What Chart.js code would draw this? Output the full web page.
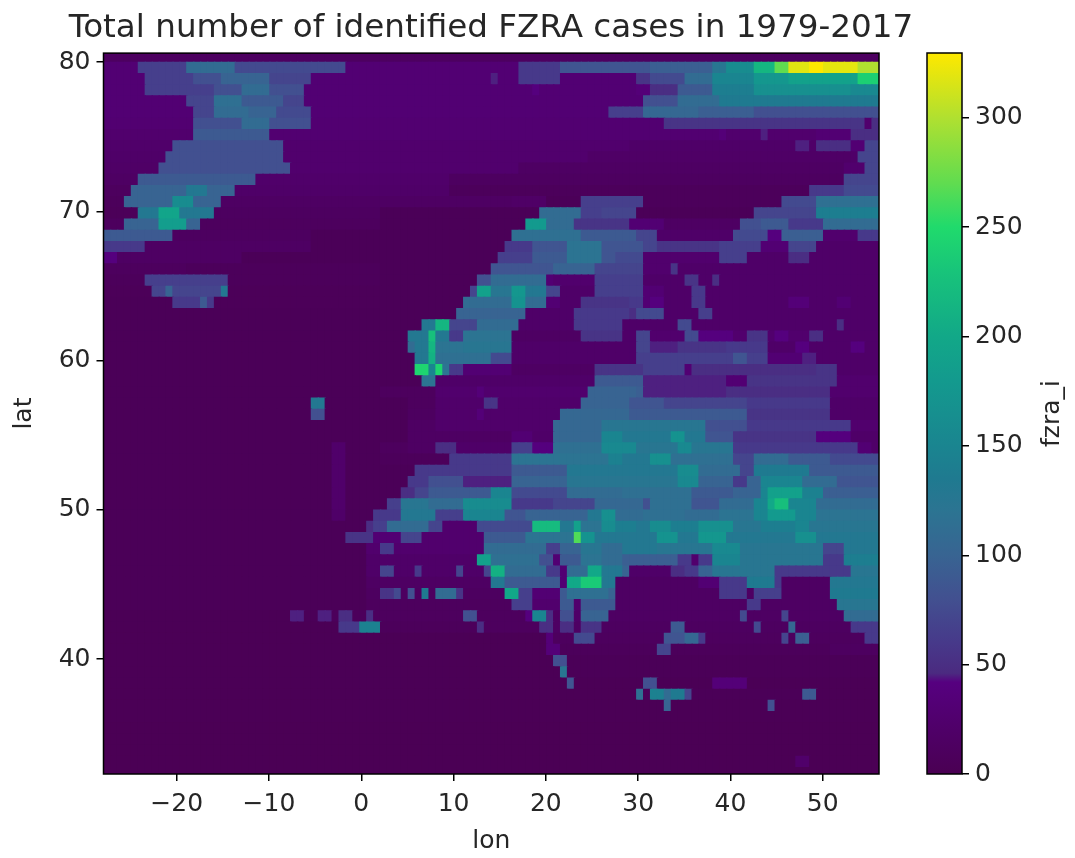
<!DOCTYPE html>
<html lang="en">
<head>
  <meta charset="UTF-8" />
  <title>Total number of identified FZRA cases in 1979-2017</title>
  <script src="https://cdn.jsdelivr.net/npm/chart.js"></script>
  <style>
    * { box-sizing: border-box; margin: 0; padding: 0; }
    body { background: #fff; width: 1075px; height: 858px; overflow: hidden; position: relative; }
    canvas { position: absolute; top: 0; filter: blur(0.6px); }
    #mapChart { left: 0; }
    #barChart { left: 880px; }
  </style>
</head>
<body>
  <canvas id="mapChart" width="982" height="858"></canvas>
  <canvas id="barChart" width="195" height="858"></canvas>

  <script>
    const titleText = "Total number of identified FZRA cases in 1979-2017";
    const lonLabel = "lon";
    const latLabel = "lat";
    const valueLabel = "fzra_i";

    const lons = [
      -27.52,-26.77,-26.02,-25.27,-24.52,-23.77,-23.02,-22.27,-21.52,-20.77,-20.02,-19.27,-18.52,-17.77,-17.02,-16.27,
      -15.52,-14.77,-14.02,-13.27,-12.52,-11.77,-11.02,-10.27,-9.52,-8.77,-8.02,-7.27,-6.52,-5.77,-5.02,-4.27,
      -3.52,-2.77,-2.02,-1.27,-0.52,0.23,0.98,1.73,2.48,3.23,3.98,4.73,5.48,6.23,6.98,7.73,
      8.48,9.23,9.98,10.73,11.48,12.23,12.98,13.73,14.48,15.23,15.98,16.73,17.48,18.23,18.98,19.73,
      20.48,21.23,21.98,22.73,23.48,24.23,24.98,25.73,26.48,27.23,27.98,28.73,29.48,30.23,30.98,31.73,
      32.48,33.23,33.98,34.73,35.48,36.23,36.98,37.73,38.48,39.23,39.98,40.73,41.48,42.23,42.98,43.73,
      44.48,45.23,45.98,46.73,47.48,48.23,48.98,49.73,50.48,51.23,51.98,52.73,53.48,54.23,54.98,55.73
    ];
    const lats = [
      80.39,79.64,78.89,78.14,77.39,76.64,75.89,75.14,74.39,73.64,72.89,72.14,71.39,70.64,69.89,69.14,
      68.39,67.64,66.89,66.14,65.39,64.64,63.89,63.14,62.39,61.64,60.89,60.14,59.39,58.64,57.89,57.14,
      56.39,55.64,54.89,54.14,53.39,52.64,51.89,51.14,50.39,49.64,48.89,48.14,47.39,46.64,45.89,45.14,
      44.39,43.64,42.89,42.14,41.39,40.64,39.89,39.14,38.39,37.64,36.89,36.14,35.39,34.64,33.89,33.14,32.39
    ];
    const lonTicks = [-20, -10, 0, 10, 20, 30, 40, 50];
    const latTicks = [40, 50, 60, 70, 80];
    const barTicks = [0, 50, 100, 150, 200, 250, 300];

    // one string per lat row, north to south. "col:value" = value holds from that column on
    const fzraRows = [
      "0:12",
      "0:30 5:65 12:110 19:75 35:30 60:60 66:85 79:95 88:125 90:160 94:215 97:270 99:318 102:329 104:320 109:300",
      "0:30 6:65 13:80 17:100 24:70 30:30 56:45 57:30 60:60 66:30 77:55 79:75 84:110 88:150 94:175 99:190 109:240",
      "0:30 6:65 16:80 20:110 24:80 29:30 62:40 63:30 77:35 79:50 83:90 88:140 94:165 108:155",
      "0:30 12:70 16:115 20:90 26:70 29:30 78:80 83:110 89:135",
      "0:30 13:70 16:110 21:100 25:75 30:30 73:65 78:105 86:95 94:80",
      "0:28 13:80 20:110 24:80 30:28 81:55 110:25 111:50",
      "0:25 13:90 24:28 89:35 90:25 95:45 96:25 103:30 108:50",
      "0:22 10:80 26:25 76:20 100:45 102:20 103:50 108:30 110:70",
      "0:20 9:80 26:25 70:18 108:20 109:70",
      "0:18 8:80 27:25 60:15 107:25 110:70",
      "0:15 5:90 22:22 50:12 107:70",
      "0:10 4:100 12:130 15:100 19:20 50:8 102:60 107:75",
      "0:8 3:100 10:160 13:100 17:15 59:18 64:5 69:65 78:8 98:75 103:115",
      "0:6 5:130 8:195 11:130 16:12 40:5 63:110 69:65 72:70 77:5 94:70 103:140",
      "0:10 3:100 8:185 12:100 14:10 40:5 61:180 64:110 68:55 76:30 81:15 92:80 95:90 99:60 104:110",
      "0:90 10:12 30:5 59:115 69:90 77:70 80:20 91:75 96:40 98:95 104:25 109:60",
      "0:60 6:15 30:5 58:60 62:85 67:120 72:85 78:70 80:55 89:65 95:30 99:70 103:20",
      "0:40 2:15 20:5 57:65 62:90 67:120 72:85 74:75 78:25 89:65 93:20 99:50 102:20",
      "0:10 12:8 40:5 56:85 65:100 71:70 78:25 82:55 83:20",
      "0:8 6:65 18:8 40:5 54:80 56:110 64:30 65:25 71:65 78:20 84:55 86:20 88:50 89:20",
      "0:6 7:70 9:100 10:70 17:130 18:6 40:5 53:70 54:190 56:125 59:175 61:130 64:70 66:20 71:65 78:30 81:20 85:60 87:20",
      "0:5 10:60 14:90 15:60 16:6 40:5 52:110 59:170 61:110 64:30 66:20 69:55 76:60 78:30 79:40 81:20 85:60 87:20 99:35 102:20 106:30 108:20",
      "0:5 51:100 61:20 68:60 76:50 77:75 81:20 86:65 88:20",
      "0:5 46:130 48:215 50:70 54:110 60:20 68:60 75:20 83:75 85:20 106:50 107:20",
      "0:5 44:130 47:225 48:130 50:60 52:120 59:15 69:55 75:20 77:70 79:25 84:75 86:40 91:25 93:55 96:25 97:40 99:25 102:50 104:20",
      "0:5 44:110 45:130 47:215 48:120 52:125 59:20 77:70 79:45 83:55 90:60 96:20 100:40 102:20 108:40 110:20",
      "0:5 45:130 47:210 48:115 56:75 59:20 77:65 91:85 93:65 96:30 101:45 103:20",
      "0:5 45:245 47:150 48:245 49:120 50:60 52:30 59:15 71:55 78:65 84:30 85:50 103:55 106:20",
      "0:5 46:120 48:20 71:90 78:45 90:30 93:55 106:25",
      "0:5 40:10 48:25 54:35 55:25 70:100 77:95 78:45 90:50 105:25",
      "0:5 30:130 32:5 44:10 48:22 55:55 57:22 69:100 76:85 81:70 93:60 105:20",
      "0:5 30:80 32:5 44:12 48:22 54:35 55:22 66:105 76:90 93:55 105:20",
      "0:5 44:15 48:22 65:105 72:125 87:80 93:60 108:25",
      "0:5 44:15 59:30 62:20 65:105 72:150 75:130 82:170 84:130 87:85 91:55 103:40 108:20",
      "0:5 33:22 35:5 40:10 44:15 48:50 51:20 59:65 62:40 65:115 72:155 77:125 83:155 85:125 91:60 109:30 111:20",
      "0:5 33:22 35:5 40:8 50:60 59:120 73:145 75:130 79:165 82:115 91:70 94:110 99:90 105:75",
      "0:5 33:22 35:5 45:60 59:90 67:130 83:160 86:110 92:70 94:135 102:90",
      "0:5 33:22 35:5 44:60 47:80 52:45 59:100 67:125 83:155 86:100 91:60 93:100 95:150 101:110 106:85",
      "0:5 33:22 35:5 43:50 45:70 47:90 56:150 59:75 67:110 75:115 85:90 91:100 95:150 96:190 101:145 104:95",
      "0:5 33:22 35:5 41:65 43:125 47:110 52:160 59:60 65:70 71:105 78:80 79:115 85:85 89:110 94:150 96:200 97:225 99:150 103:110",
      "0:5 33:20 35:5 39:60 43:130 48:65 52:150 58:85 61:100 70:130 72:165 74:110 78:115 84:110 89:120 94:150 96:180 100:150 103:120",
      "0:5 38:50 39:65 41:110 47:70 49:25 54:75 62:220 66:130 68:190 69:120 72:160 74:140 77:130 79:160 82:140 86:165 91:125 95:140 100:150 102:125",
      "0:5 35:55 39:30 43:70 46:25 55:90 61:120 68:265 69:170 71:130 80:170 83:130 86:175 90:130 100:165 103:130",
      "0:5 38:25 40:60 42:25 55:110 64:65 66:100 69:125 72:110 75:130 80:125 88:155 92:125 104:70 107:130",
      "0:5 38:20 54:190 56:115 63:80 65:30 66:90 69:120 72:110 75:95 83:60 85:25 86:60 88:150 92:125 104:60 107:140",
      "0:5 38:20 40:70 42:20 45:60 46:20 51:70 52:20 55:70 56:210 58:110 64:60 66:30 67:110 70:200 72:130 75:100 76:20 82:50 84:60 86:100 88:125 97:60 108:125",
      "0:5 38:15 56:130 58:90 66:30 67:200 69:235 72:130 74:15 86:30 89:60 93:135 97:60 98:15 105:130",
      "0:5 38:12 40:55 42:75 43:12 44:80 45:12 46:135 47:12 48:110 51:55 52:12 58:200 60:65 62:30 66:90 67:115 73:100 74:15 89:60 93:15 94:65 98:15 105:135",
      "0:5 38:10 59:65 62:25 66:90 68:25 69:90 74:15 93:60 95:15 106:125",
      "0:3 27:45 29:5 31:45 33:8 34:50 36:8 38:50 39:10 52:80 54:10 61:40 62:150 64:50 65:15 66:80 68:20 69:100 73:15 92:75 93:15 98:70 99:15 107:110",
      "0:3 34:60 37:145 40:8 54:50 55:10 63:50 65:15 66:50 68:15 69:55 72:12 82:90 84:12 94:75 95:12 99:105 100:12 108:60",
      "0:3 64:35 65:10 68:75 71:10 81:85 84:105 86:60 87:10 98:70 99:10 100:95 102:10 110:60",
      "0:3 64:35 66:8 80:70 82:8 105:12",
      "0:3 65:80 67:5",
      "0:3 66:125 67:5",
      "0:3 67:85 68:3 78:80 80:3 88:35 93:3",
      "0:3 77:115 78:5 79:145 81:110 82:135 84:70 85:5 101:90 103:3",
      "0:3 81:100 82:3 96:80 97:3",
      "0:3",
      "0:2",
      "0:2",
      "0:2",
      "0:2 100:22 102:2",
      "0:2"
    ];

    // colours as they look on the reference colorbar
    const stopValues = [0, 20, 42, 46, 60, 80, 100, 120, 135, 150, 180, 200, 230, 250, 270, 300, 329];
    const stopColors = ["#4a0053", "#4f0068", "#560080", "#4b2a80", "#47398a", "#425090", "#386492", "#2c7492", "#1f7a90",
      "#1a8590", "#139a8e", "#12a888", "#18c47a", "#20da6c", "#60dc50", "#b0e030", "#fde800"];

    const plotTop = 53, plotBottom = 774;
    const textColor = "#262626";
    const tickFont = { family: "DejaVu Sans", size: 25 };

    function hexRgb(hex) {
      return [1, 3, 5].map(i => parseInt(hex.slice(i, i + 2), 16));
    }

    function valueColor(v) {
      let i = 0;
      while (i < stopValues.length - 2 && v > stopValues[i + 1]) i++;
      const t = (v - stopValues[i]) / (stopValues[i + 1] - stopValues[i]);
      const a = hexRgb(stopColors[i]), b = hexRgb(stopColors[i + 1]);
      const c = a.map((x, k) => Math.round(x + (b[k] - x) * t));
      return `rgb(${c[0]},${c[1]},${c[2]})`;
    }

    function rowValues(row) {
      const out = new Array(lons.length).fill(0);
      const runs = row.split(" ").map(s => s.split(":").map(Number));
      runs.forEach((r, i) => {
        const end = i + 1 < runs.length ? runs[i + 1][0] : lons.length;
        for (let c = r[0]; c < end; c++) out[c] = r[1];
      });
      return out;
    }

    const cells = [];
    const cellColors = [];
    fzraRows.forEach((row, j) => {
      rowValues(row).forEach((v, c) => {
        cells.push({ x: lons[c], y: [lats[j] - 0.42, lats[j] + 0.38] });
        cellColors.push(valueColor(v));
      });
    });

    const framePlugin = {
      id: "frame",
      beforeDatasetsDraw(chart) {
        const a = chart.chartArea, ctx = chart.ctx;
        ctx.save();
        ctx.fillStyle = stopColors[0];
        ctx.fillRect(a.left, a.top, a.right - a.left, a.bottom - a.top);
        ctx.restore();
      },
      afterDraw(chart) {
        const a = chart.chartArea, ctx = chart.ctx;
        ctx.save();
        ctx.strokeStyle = "#000";
        ctx.lineWidth = 1.5;
        ctx.strokeRect(a.left, a.top, a.right - a.left, a.bottom - a.top);
        ctx.restore();
      }
    };

    function tickGrid() {
      return { display: true, offset: false, drawOnChartArea: false, drawTicks: true, tickLength: 7, tickColor: "#000", tickWidth: 1.5, lineWidth: 1.5 };
    }

    new Chart(document.getElementById("mapChart"), {
      type: "bar",
      data: { datasets: [{ data: cells, backgroundColor: cellColors, borderWidth: 0, barPercentage: 1.2, categoryPercentage: 1, grouped: false }] },
      plugins: [framePlugin],
      options: {
        responsive: false,
        animation: false,
        plugins: {
          legend: { display: false },
          tooltip: { enabled: false },
          title: {
            display: true, text: titleText, color: textColor,
            font: { family: "DejaVu Sans", size: 32.6, weight: "normal" },
            padding: { top: 9, bottom: 5 }
          }
        },
        scales: {
          x: {
            type: "linear", min: -27.93, max: 56.1, offset: false,
            afterBuildTicks: s => { s.ticks = lonTicks.map(v => ({ value: v })); },
            afterFit: s => { s.height = 858 - plotBottom; },
            grid: tickGrid(),
            border: { display: false },
            ticks: {
              color: textColor, font: tickFont, padding: 8, maxRotation: 0, autoSkip: false,
              callback: v => String(v).replace("-", "\u2212")
            },
            title: { display: true, text: lonLabel, color: textColor, font: tickFont, padding: { top: 0, bottom: 2 } }
          },
          y: {
            type: "linear", min: 32.3, max: 80.6,
            afterBuildTicks: s => { s.ticks = latTicks.map(v => ({ value: v })); },
            afterFit: s => { s.width = 103.5; },
            grid: tickGrid(),
            border: { display: false },
            ticks: { color: textColor, font: tickFont, padding: 6, autoSkip: false },
            title: { display: true, text: latLabel, color: textColor, font: tickFont, padding: { top: 9, bottom: 0 } }
          },
          // empty axis keeps room for the colorbar, so the title centres over the whole figure
          spacer: {
            type: "linear", position: "right",
            afterFit: s => { s.width = 103; },
            grid: { display: false },
            border: { display: false },
            ticks: { display: false }
          }
        }
      }
    });

    function barGradient(context) {
      const chart = context.chart;
      if (!chart.chartArea) return "#000";
      const y = chart.scales.y;
      const g = chart.ctx.createLinearGradient(0, y.getPixelForValue(0), 0, y.getPixelForValue(329.6));
      stopValues.forEach((v, i) => g.addColorStop(v / 329.6, stopColors[i]));
      return g;
    }

    // right-hand label reads bottom to top, the axis title would turn it the other way
    const valueLabelPlugin = {
      id: "valueLabel",
      afterDraw(chart) {
        const ctx = chart.ctx;
        ctx.save();
        ctx.translate(172, (plotTop + plotBottom) / 2);
        ctx.rotate(-Math.PI / 2);
        ctx.font = "25px 'DejaVu Sans'";
        ctx.fillStyle = textColor;
        ctx.textAlign = "center";
        ctx.textBaseline = "middle";
        ctx.fillText(valueLabel, 0, 0);
        ctx.restore();
      }
    };

    new Chart(document.getElementById("barChart"), {
      type: "bar",
      data: { labels: [""], datasets: [{ data: [[0, 329.6]], backgroundColor: barGradient, borderWidth: 0, barPercentage: 1, categoryPercentage: 1 }] },
      plugins: [framePlugin, valueLabelPlugin],
      options: {
        responsive: false,
        animation: false,
        layout: { padding: { left: 47, top: plotTop, bottom: 858 - plotBottom } },
        plugins: { legend: { display: false }, tooltip: { enabled: false } },
        scales: {
          x: { display: false },
          y: {
            position: "right", type: "linear", min: 0, max: 329.6,
            afterBuildTicks: s => { s.ticks = barTicks.map(v => ({ value: v })); },
            afterFit: s => { s.width = 113; },
            grid: tickGrid(),
            border: { display: false },
            ticks: { color: textColor, font: tickFont, padding: 6, autoSkip: false }
          }
        }
      }
    });
  </script>
</body>
</html>
